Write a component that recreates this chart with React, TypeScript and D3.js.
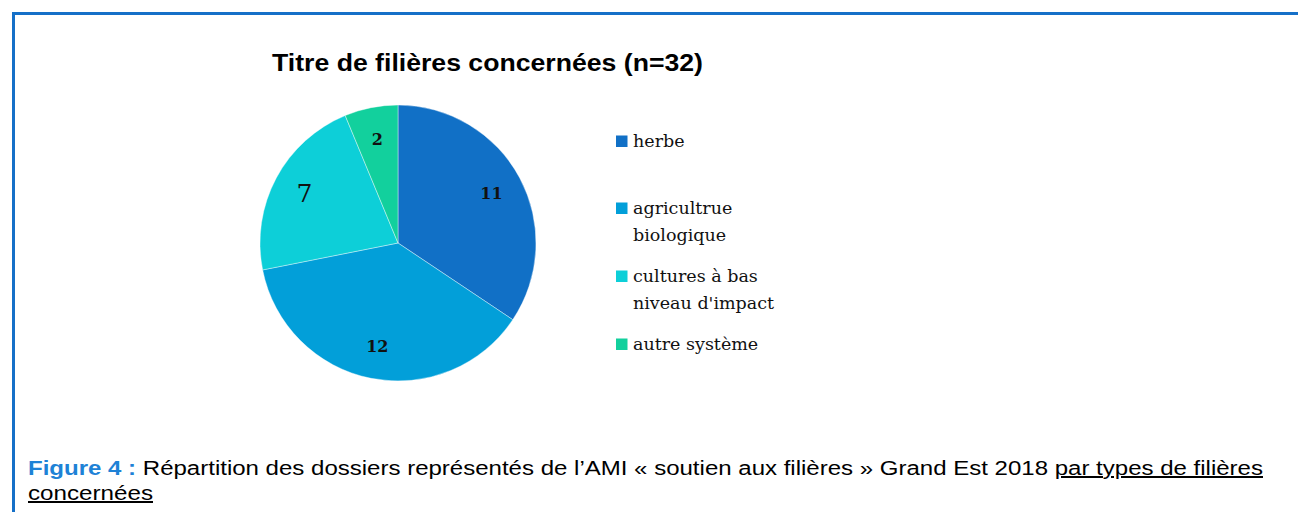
import React from "react";
import * as d3 from "d3";

const categories = ["herbe", "agricultrue biologique", "cultures à bas niveau d'impact", "autre système"];
const values = [11, 12, 7, 2];
const legendLines = [["herbe"], ["agricultrue", "biologique"], ["cultures à bas", "niveau d'impact"], ["autre système"]];
const colors = ["#1170C6", "#029FD9", "#0DCFD8", "#12D09D"];
const title = "Titre de filières concernées (n=32)";
const labelSizes = [16, 16, 25, 16];

export default function App() {
  const W = 1298, H = 512;
  const cx = 398, cy = 243, r = 138;
  const pie = d3.pie<number>().sort(null).value((d) => d)(values);
  const arc = d3.arc<d3.PieArcDatum<number>>().innerRadius(0).outerRadius(r);
  const labelArc = d3.arc<d3.PieArcDatum<number>>().innerRadius(212).outerRadius(0);
  const legendY = [147, 214, 282, 350];
  return (
    <svg width={W} height={H} style={{ position: "absolute", left: 0, top: 0, display: "block", background: "#fff" }}>
      <line x1={12} y1={13.5} x2={W} y2={13.5} stroke="#1570C8" strokeWidth={3} />
      <line x1={13.5} y1={12} x2={13.5} y2={H} stroke="#1570C8" strokeWidth={3} />
      <text x={487.5} y={70.5} textAnchor="middle" fontFamily="Liberation Sans, Arial, sans-serif" fontWeight="bold" fontSize={23.5} textLength={431} lengthAdjust="spacingAndGlyphs" fill="#000">
        {title}
      </text>
      <g transform={`translate(${cx},${cy})`}>
        {pie.map((p, i) => (
          <path key={i} d={arc(p) || ""} fill={colors[i]} stroke="#ffffff" strokeWidth={0.4} />
        ))}
        {pie.map((p, i) => {
          const [x, y] = labelArc.centroid(p);
          return (
            <text key={"l" + i} x={x} y={y} textAnchor="middle" dominantBaseline="central" fontFamily="DejaVu Serif, serif" fontWeight={i === 2 ? "normal" : "bold"} fontSize={labelSizes[i]} fill="#111">
              {values[i]}
            </text>
          );
        })}
      </g>
      {categories.map((c, i) => (
        <g key={c}>
          <rect x={616} y={legendY[i] - 11.5} width={11.5} height={11.5} fill={colors[i]} />
          {legendLines[i].map((t, j) => (
            <text key={j} x={633} y={legendY[i] + j * 27} fontFamily="DejaVu Serif, serif" fontSize={17.5} fill="#111">
              {t}
            </text>
          ))}
        </g>
      ))}
      <text x={28} y={475} fontFamily="Liberation Sans, Arial, sans-serif" fontSize={20} textLength={1235} lengthAdjust="spacingAndGlyphs" fill="#000">
        <tspan fill="#1E82D6" fontWeight="bold">Figure 4 :</tspan>
        <tspan> Répartition des dossiers représentés de l’AMI « soutien aux filières » Grand Est 2018 </tspan>
        <tspan style={{ textDecoration: "underline" }}>par types de filières</tspan>
      </text>
      <text x={28} y={500} fontFamily="Liberation Sans, Arial, sans-serif" fontSize={20} textLength={125} lengthAdjust="spacingAndGlyphs" fill="#000">
        <tspan style={{ textDecoration: "underline" }}>concernées</tspan>
      </text>
    </svg>
  );
}
